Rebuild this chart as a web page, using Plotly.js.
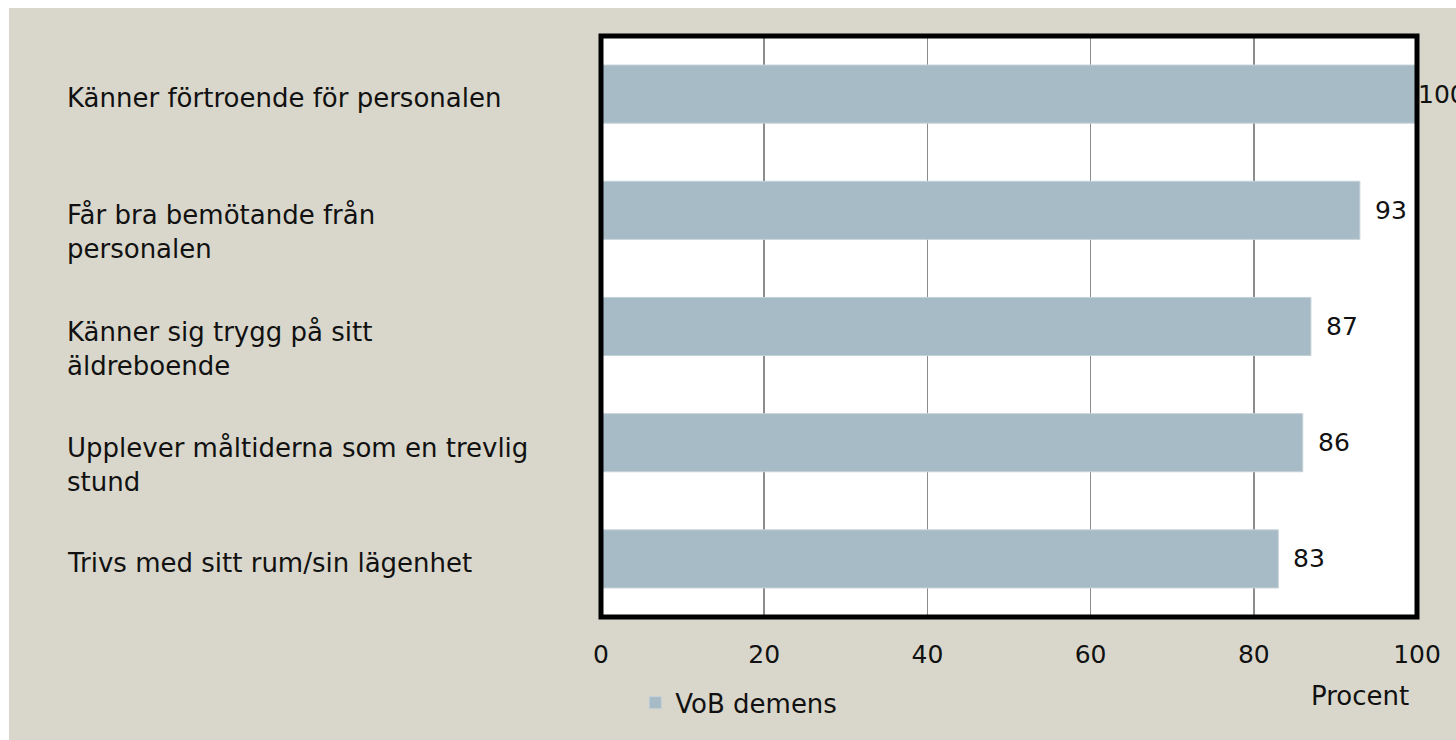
<!DOCTYPE html>
<html>
<head>
<meta charset="utf-8">
<script src="https://cdn.plot.ly/plotly-3.0.1.min.js"></script>
<style>
html,body{margin:0;padding:0;background:#ffffff;overflow:hidden;}
#chart{position:absolute;left:9px;top:8px;width:1447px;height:732px;}
</style>
</head>
<body>
<div id="chart"></div>
<script>
const categories = [
  "Känner förtroende för personalen",
  "Får bra bemötande från<br>personalen",
  "Känner sig trygg på sitt<br>äldreboende",
  "Upplever måltiderna som en trevlig<br>stund",
  "Trivs med sitt rum/sin lägenhet"
];
const values = [100, 93, 87, 86, 83];
const seriesName = "VoB demens";
const xTicks = [0, 20, 40, 60, 80, 100];
const xTitle = "Procent";

const FONT = "DejaVu Sans, sans-serif";
const barColor = "#a7bbc6";
const bg = "#d9d7cb";
const txt = "#111111";

const trace = {
  type: "bar",
  orientation: "h",
  x: values,
  y: categories,
  name: seriesName,
  marker: {color: barColor, line: {color: "#c4d1d8", width: 1}},
  hoverinfo: "skip",
  showlegend: true
};

const annotations = [];
categories.forEach((c, i) => {
  const lines = c.split("<br>").length;
  annotations.push({
    xref: "paper", yref: "y", x: -0.6569, y: c,
    text: c, showarrow: false, xanchor: "left", yanchor: "middle", align: "left",
    yshift: lines > 1 ? -22 : -4,
    font: {family: FONT, size: 26, color: txt}
  });
  annotations.push({
    xref: "x", yref: "y", x: values[i], y: c,
    text: String(values[i]), showarrow: false, xanchor: "left", yanchor: "middle",
    xshift: values[i] >= 100 ? -1 : 13,
    font: {family: FONT, size: 25, color: txt}
  });
});
annotations.push({
  xref: "paper", yref: "paper", x: 0.930, y: -0.136,
  text: xTitle, showarrow: false, xanchor: "center", yanchor: "middle",
  font: {family: FONT, size: 26, color: txt}
});

const layout = {
  width: 1447, height: 732,
  paper_bgcolor: bg, plot_bgcolor: "#ffffff",
  margin: {l: 592, r: 39, t: 27.5, b: 122.5, pad: 0, autoexpand: false},
  bargap: 0.5,
  showlegend: true,
  legend: {
    xref: "paper", yref: "container",
    x: 0.042, y: 0.083, xanchor: "left", yanchor: "top",
    orientation: "h", bgcolor: "rgba(0,0,0,0)",
    font: {family: FONT, size: 26, color: txt},
    itemwidth: 30
  },
  xaxis: {
    range: [0, 100], tickvals: xTicks, ticktext: xTicks.map(String),
    showgrid: true, gridcolor: "#8c8c8c", gridwidth: 1.5,
    zeroline: false, showline: false,
    ticks: "", ticklabelstandoff: 20,
    tickfont: {family: FONT, size: 25, color: txt},
    fixedrange: true
  },
  yaxis: {
    autorange: "reversed", showticklabels: false, showgrid: false,
    zeroline: false, showline: false,
    ticks: "", fixedrange: true
  },
  shapes: [{
    type: "rect", xref: "paper", yref: "paper", x0: 0, x1: 1, y0: 0, y1: 1,
    line: {color: "#000000", width: 5}, fillcolor: "rgba(0,0,0,0)", layer: "above"
  }],
  annotations: annotations
};

Plotly.newPlot("chart", [trace], layout, {displayModeBar: false, staticPlot: true});
</script>
</body>
</html>
